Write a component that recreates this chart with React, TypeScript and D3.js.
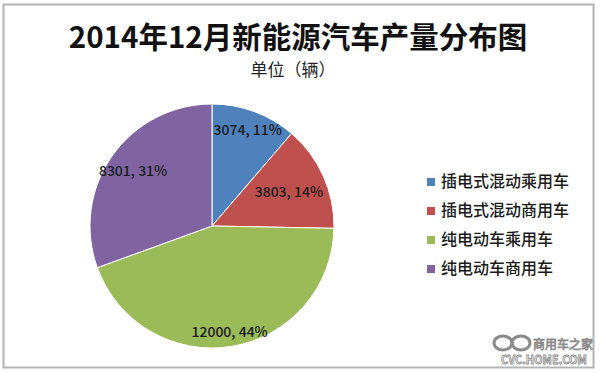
import React, { useEffect, useRef } from 'react';
import * as d3 from 'd3';

const categories = ['插电式混动乘用车', '插电式混动商用车', '纯电动车乘用车', '纯电动车商用车'];
const values = [3074, 3803, 12000, 8301];
const percents = ['11%', '14%', '44%', '31%'];
const colors = ['#4f81bd', '#c0504d', '#9bbb59', '#8064a2'];
// where each data label sits, as a share of the radius (Excel "best fit")
const labelRadius = [0.84, 0.69, 0.88, 0.79];

const App = () => {
  const ref = useRef<SVGSVGElement>(null);

  useEffect(() => {
    const svg = d3.select(ref.current);
    svg.selectAll('*').remove();

    const width = 600;
    const height = 374;
    const cx = 212;
    const cy = 226;
    const r = 122;
    const font = '"Noto Sans CJK SC", "Noto Sans", sans-serif';

    svg.append('rect')
      .attr('width', width)
      .attr('height', height)
      .attr('fill', '#fff');

    // frame
    svg.append('rect')
      .attr('x', 3.5)
      .attr('y', 4.5)
      .attr('width', 590)
      .attr('height', 363)
      .attr('fill', 'none')
      .attr('stroke', '#b4b4b4')
      .attr('stroke-width', 2);

    svg.append('text')
      .attr('x', 298)
      .attr('y', 48)
      .attr('text-anchor', 'middle')
      .attr('font-family', font)
      .attr('font-weight', 'bold')
      .attr('font-size', 29.5)
      .attr('fill', '#111')
      .text('2014年12月新能源汽车产量分布图');

    svg.append('text')
      .attr('x', 293)
      .attr('y', 76)
      .attr('text-anchor', 'middle')
      .attr('font-family', font)
      .attr('font-size', 17)
      .attr('fill', '#222')
      .text('单位（辆）');

    const data = values.map((v, i) => ({ v, i }));
    const pie = d3.pie<{ v: number; i: number }>().value(d => d.v).sort(null);
    const arcs = pie(data);
    const arc = d3.arc<d3.PieArcDatum<{ v: number; i: number }>>()
      .innerRadius(0)
      .outerRadius(r);

    const g = svg.append('g').attr('transform', `translate(${cx},${cy})`);

    g.selectAll('path')
      .data(arcs)
      .enter().append('path')
      .attr('d', arc)
      .attr('fill', d => colors[d.data.i])
      .attr('stroke', '#fff')
      .attr('stroke-width', 1);

    g.selectAll('text.lbl')
      .data(arcs)
      .enter().append('text')
      .attr('class', 'lbl')
      .attr('transform', d => {
        const a = (d.startAngle + d.endAngle) / 2;
        const lr = r * labelRadius[d.data.i];
        return `translate(${Math.sin(a) * lr},${-Math.cos(a) * lr})`;
      })
      .attr('text-anchor', 'middle')
      .attr('dy', '0.35em')
      .attr('font-family', font)
      .attr('font-size', 14)
      .attr('font-weight', 500)
      .attr('fill', '#1a1a1a')
      .text(d => `${d.data.v}, ${percents[d.data.i]}`);

    // legend
    const legend = svg.append('g').attr('transform', 'translate(427,181)');
    const rows = legend.selectAll('g')
      .data(categories)
      .enter().append('g')
      .attr('transform', (d, i) => `translate(0,${i * 29})`);

    rows.append('rect')
      .attr('x', 0)
      .attr('y', -3)
      .attr('width', 8)
      .attr('height', 8)
      .attr('fill', (d, i) => colors[i]);

    rows.append('text')
      .attr('x', 14)
      .attr('y', 0)
      .attr('dy', '0.35em')
      .attr('font-family', font)
      .attr('font-size', 16)
      .attr('font-weight', 500)
      .attr('fill', '#1a1a1a')
      .text(d => d);

    // watermark
    const wm = svg.append('g').attr('opacity', 0.85);
    wm.append('ellipse')
      .attr('cx', 503).attr('cy', 343).attr('rx', 9).attr('ry', 7)
      .attr('fill', 'none').attr('stroke', '#777').attr('stroke-width', 3);
    wm.append('ellipse')
      .attr('cx', 521).attr('cy', 343).attr('rx', 9).attr('ry', 7)
      .attr('fill', 'none').attr('stroke', '#777').attr('stroke-width', 3);
    wm.append('text')
      .attr('x', 533).attr('y', 349)
      .attr('font-family', font).attr('font-size', 12)
      .attr('fill', '#fff').attr('stroke', '#777').attr('stroke-width', 0.8)
      .text('商用车之家');
    wm.append('text')
      .attr('x', 544).attr('y', 364)
      .attr('text-anchor', 'middle')
      .attr('font-family', font).attr('font-size', 11).attr('font-weight', 'bold')
      .attr('fill', '#fff').attr('stroke', '#777').attr('stroke-width', 0.8)
      .text('CVC.HOME.COM');
  }, []);

  return (
    <div style={{ position: 'absolute', left: 0, top: 0 }}>
      <svg ref={ref} width="600" height="374" style={{ display: 'block' }}></svg>
    </div>
  );
};

export default App;
